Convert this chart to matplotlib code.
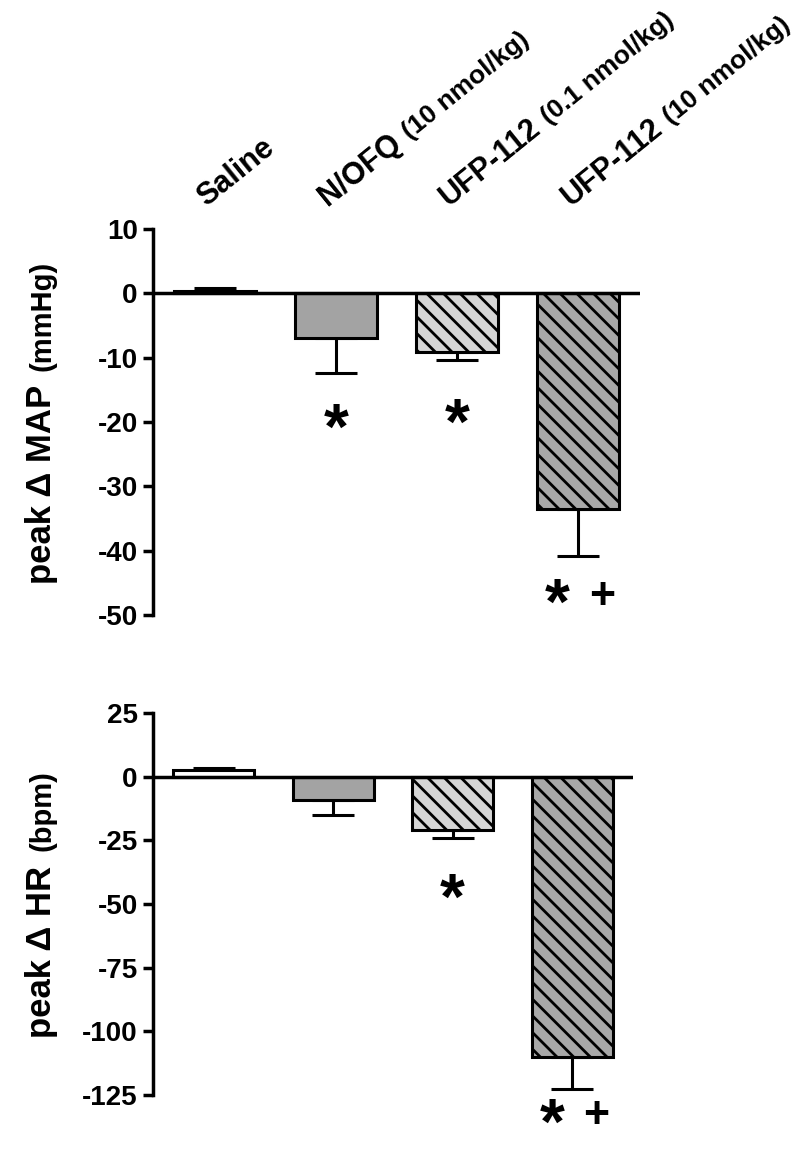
import matplotlib
matplotlib.use("Agg")
import matplotlib.pyplot as plt
from matplotlib.font_manager import FontProperties
from matplotlib.transforms import offset_copy, IdentityTransform
import numpy as np

plt.rcParams['font.family'] = ['Liberation Sans', 'DejaVu Sans']
plt.rcParams['hatch.linewidth'] = 2.0

# ---------------- data ----------------
groups_main = ["Saline", "N/OFQ", "UFP-112", "UFP-112"]
groups_dose = ["", "(10 nmol/kg)", "(0.1 nmol/kg)", "(10 nmol/kg)"]

map_mean = [0.4, -7.0, -9.1, -33.6]
map_sem = [0.4, 5.4, 1.3, 7.3]
map_marks = ["", "*", "*", "* +"]

hr_mean = [2.5, -9.0, -20.8, -110.0]
hr_sem = [1.0, 5.9, 3.2, 12.8]
hr_marks = ["", "", "*", "* +"]

map_ticks = [10, 0, -10, -20, -30, -40, -50]
hr_ticks = [25, 0, -25, -50, -75, -100, -125]

fills = ["white", "#a3a3a3", "#d6d6d6", "#a8a8a8"]
hatches = [None, None, "\\\\", "\\\\"]

W, H = 800, 1159
fig = plt.figure(figsize=(W / 100, H / 100), dpi=100)

ax1 = fig.add_axes([153 / W, 1 - 615 / H, (640 - 153) / W, (615 - 229) / H])
ax2 = fig.add_axes([153 / W, 1 - 1095 / H, (633 - 153) / W, (1095 - 713) / H])

x = np.arange(len(groups_main))
LW = 2.2


def draw(ax, mean, sem, ticks, marks, mark_y):
    mean = np.asarray(mean)
    sem = np.asarray(sem)
    lower = np.where(mean < 0, sem, 0)
    upper = np.where(mean >= 0, sem, 0)
    ax.errorbar(x, mean, yerr=[lower, upper], fmt="none", ecolor="black",
                elinewidth=LW, capsize=15, capthick=LW, zorder=1)
    for i in range(len(x)):
        ax.bar(x[i], mean[i], width=0.68, color=fills[i], edgecolor="black",
               linewidth=LW, hatch=hatches[i], zorder=2)
    ax.axhline(0, color="black", lw=2.5, zorder=3)
    ax.set_xlim(-0.51, 3.51)
    ax.set_ylim(min(ticks), max(ticks))
    ax.set_yticks(ticks)
    ax.set_yticklabels([str(t) for t in ticks])
    for s in ["top", "right", "bottom"]:
        ax.spines[s].set_visible(False)
    ax.spines["left"].set_linewidth(2.5)
    ax.set_xticks([])
    ax.tick_params(axis="y", length=7, width=2.5, pad=4, labelsize=20)
    for lab in ax.get_yticklabels():
        lab.set_fontweight("bold")
    plus_tr = offset_copy(ax.transData, fig=fig, x=0, y=10, units="dots")
    for i, m in enumerate(marks):
        if not m:
            continue
        if m == "*":
            ax.text(x[i], mark_y[i], "*", ha="center", va="center",
                    fontsize=46, fontweight="bold", clip_on=False)
        else:
            ax.text(x[i] - 0.17, mark_y[i], "*", ha="center", va="center",
                    fontsize=46, fontweight="bold", clip_on=False)
            ax.text(x[i] + 0.2, mark_y[i], "+", ha="center", va="center",
                    fontsize=32, fontweight="bold", clip_on=False,
                    transform=plus_tr)


draw(ax1, map_mean, map_sem, map_ticks, map_marks, [0, -21.5, -20.7, -48.8])
draw(ax2, hr_mean, hr_sem, hr_ticks, hr_marks, [0, 0, -49, -137.5])

renderer = fig.canvas.get_renderer()


def text_width(s, size, weight="bold"):
    fp = FontProperties(family=['Liberation Sans'], size=size, weight=weight)
    w, h, d = renderer.get_text_width_height_descent(s, fp, ismath=False)
    return w

# category labels, rotated
ang = 39
ca, sa = np.cos(np.radians(ang)), np.sin(np.radians(ang))
trans = ax1.get_xaxis_transform()
yax = (615 - 207) / (615 - 229)
for i in range(len(x)):
    ax1.text(x[i] - 0.07, yax, groups_main[i], transform=trans, rotation=ang,
             rotation_mode="anchor", ha="left", va="baseline",
             fontsize=22, fontweight="bold", clip_on=False)
    if groups_dose[i]:
        w = text_width(groups_main[i], 22) + 9
        t2 = offset_copy(trans, fig=fig, x=w * ca, y=w * sa, units="dots")
        ax1.text(x[i] - 0.07, yax, groups_dose[i], transform=t2, rotation=ang,
                 rotation_mode="anchor", ha="left", va="baseline",
                 fontsize=19, fontweight="bold", clip_on=False)


def ylabel(ax, main, unit, base_x_px):
    w1 = text_width(main, 25)
    w2 = text_width(unit, 21)
    gap = 14
    total = w1 + gap + w2
    bb = ax.get_window_extent()
    cy = (bb.y0 + bb.y1) / 2
    y0 = cy - total / 2
    idt = IdentityTransform()
    fig.text(base_x_px, y0, main, transform=idt, rotation=90,
             rotation_mode="anchor", ha="left", va="baseline",
             fontsize=25, fontweight="bold")
    fig.text(base_x_px, y0 + w1 + gap, unit, transform=idt, rotation=90,
             rotation_mode="anchor", ha="left", va="baseline",
             fontsize=21, fontweight="bold")

ylabel(ax1, "peak \u0394 MAP", "(mmHg)", 51)
ylabel(ax2, "peak \u0394 HR", "(bpm)", 51)

fig.savefig("out.png", dpi=100, facecolor="white")
